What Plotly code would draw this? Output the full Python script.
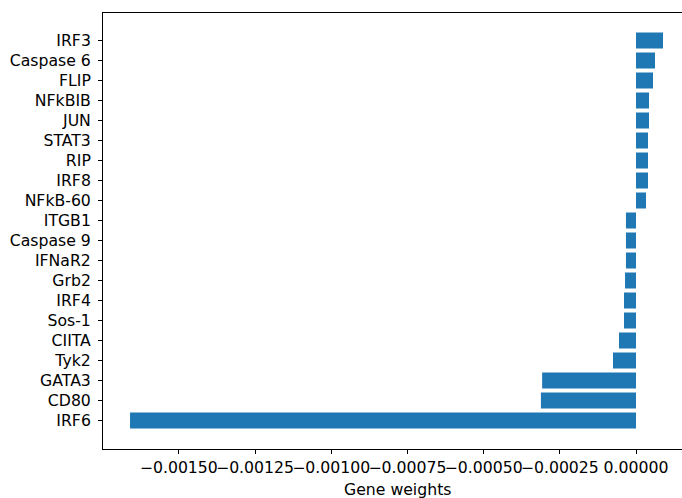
import plotly.graph_objects as go

genes = ["IRF6", "CD80", "GATA3", "Tyk2", "CIITA", "Sos-1", "IRF4", "Grb2", "IFNaR2",
         "Caspase 9", "ITGB1", "NFkB-60", "IRF8", "RIP", "STAT3", "JUN", "NFkBIB",
         "FLIP", "Caspase 6", "IRF3"]
weights = [-0.00166, -0.000312, -0.000308, -0.0000755, -0.0000558, -0.0000394, -0.0000394,
           -0.000036, -0.000033, -0.000033, -0.000033, 0.0000328, 0.0000394, 0.0000394,
           0.0000394, 0.0000427, 0.0000427, 0.0000558, 0.0000623, 0.0000886]
xticks = [-0.0015, -0.00125, -0.001, -0.00075, -0.0005, -0.00025, 0.0]
xticklabels = ["\u22120.00150", "\u22120.00125", "\u22120.00100", "\u22120.00075",
               "\u22120.00050", "\u22120.00025", "0.00000"]

font = dict(family="DejaVu Sans", size=15.7, color="black")

fig = go.Figure(go.Bar(
    x=weights, y=genes, orientation="h",
    marker=dict(color="#1f77b4", line=dict(width=0)),
))

fig.update_layout(
    width=682, height=498,
    margin=dict(l=103, r=0, t=13, b=49),
    plot_bgcolor="white", paper_bgcolor="white",
    bargap=0.2, showlegend=False, font=font,
    xaxis=dict(
        range=[-0.0017487, 0.0001509],
        tickvals=xticks, ticktext=xticklabels, tickangle=0, automargin=False,
        showline=True, linecolor="black", linewidth=1, mirror=True,
        ticks="outside", ticklen=4, tickwidth=1, tickcolor="black",
        showgrid=False, zeroline=False, tickfont=font,
    ),
    yaxis=dict(
        type="category", categoryorder="array", categoryarray=genes,
        range=[-1.425, 20.375], automargin=False,
        showline=True, linecolor="black", linewidth=1, mirror=False,
        ticks="outside", ticklen=4, tickwidth=1, tickcolor="black",
        ticklabelstandoff=4,
        showgrid=False, zeroline=False, tickfont=font,
    ),
    annotations=[dict(
        text="Gene weights", xref="paper", yref="paper",
        x=(397 - 103) / 579, y=0, yshift=-40, xanchor="center", yanchor="middle",
        showarrow=False, font=font,
    )],
)

fig.write_html("out.html", config={"displayModeBar": False},
               post_script="document.body.style.margin='0';document.body.style.overflow='hidden';")
